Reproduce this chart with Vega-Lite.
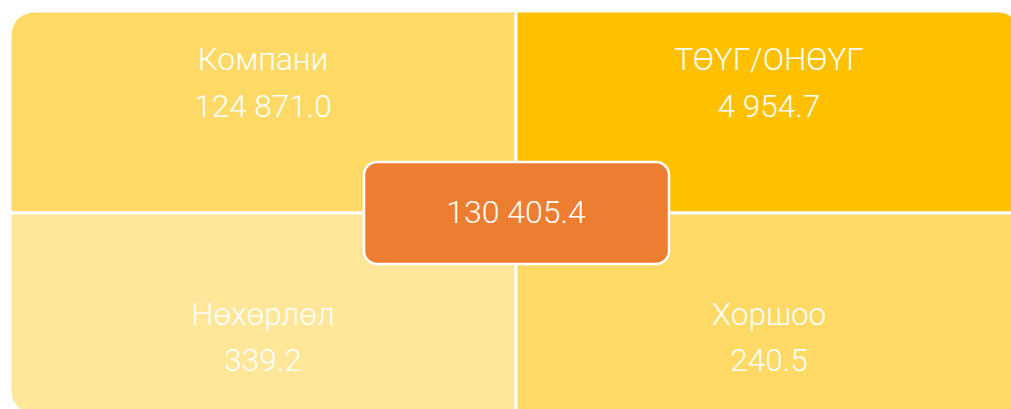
{
  "$schema": "https://vega.github.io/schema/vega-lite/v6.json",
  "width": 1011,
  "height": 409,
  "padding": 0,
  "autosize": {"type": "none"},
  "background": "white",
  "config": {"view": {"stroke": null}, "text": {"font": "Roboto"}},
  "datasets": {
    "quadrants": [
      {"q": "TL", "col": "left", "row": "top", "label": "Компани", "value": "124 871.0"},
      {"q": "TR", "col": "right", "row": "top", "label": "ТӨҮГ/ОНӨҮГ", "value": "4 954.7"},
      {"q": "BL", "col": "left", "row": "bottom", "label": "Нөхөрлөл", "value": "339.2"},
      {"q": "BR", "col": "right", "row": "bottom", "label": "Хоршоо", "value": "240.5"}
    ],
    "total": [{"total": "130 405.4"}]
  },
  "data": {"name": "quadrants"},
  "encoding": {
    "x": {"field": "col", "type": "nominal", "scale": {"domain": ["left", "right"], "range": [10, 1022], "paddingInner": 0, "paddingOuter": 0}, "axis": null},
    "y": {"field": "row", "type": "nominal", "scale": {"domain": ["top", "bottom"], "range": [11, 415], "paddingInner": 0, "paddingOuter": 0}, "axis": null}
  },
  "layer": [
    {
      "transform": [{"filter": "datum.q == 'TL'"}],
      "mark": {"type": "rect", "cornerRadiusTopLeft": 24, "stroke": "white", "strokeWidth": 3},
      "encoding": {"color": {"field": "q", "type": "nominal", "scale": {"domain": ["TL", "TR", "BL", "BR"], "range": ["#FFD966", "#FFC000", "#FFE699", "#FFD966"]}, "legend": null}}
    },
    {
      "transform": [{"filter": "datum.q == 'TR'"}],
      "mark": {"type": "rect", "cornerRadiusTopRight": 24, "stroke": "white", "strokeWidth": 3},
      "encoding": {"color": {"field": "q", "type": "nominal", "legend": null}}
    },
    {
      "transform": [{"filter": "datum.q == 'BL'"}],
      "mark": {"type": "rect", "cornerRadiusBottomLeft": 24, "stroke": "white", "strokeWidth": 3},
      "encoding": {"color": {"field": "q", "type": "nominal", "legend": null}}
    },
    {
      "transform": [{"filter": "datum.q == 'BR'"}],
      "mark": {"type": "rect", "cornerRadiusBottomRight": 24, "stroke": "white", "strokeWidth": 3},
      "encoding": {"color": {"field": "q", "type": "nominal", "legend": null}}
    },
    {
      "transform": [{"filter": "datum.row == 'top'"}],
      "mark": {"type": "text", "fontSize": 31.5, "fontWeight": 300, "color": "white", "baseline": "middle", "dy": -51},
      "encoding": {"text": {"field": "label"}}
    },
    {
      "transform": [{"filter": "datum.row == 'top'"}],
      "mark": {"type": "text", "fontSize": 31.5, "fontWeight": 300, "color": "white", "baseline": "middle", "dy": -4},
      "encoding": {"text": {"field": "value"}}
    },
    {
      "transform": [{"filter": "datum.row == 'bottom'"}],
      "mark": {"type": "text", "fontSize": 31.5, "fontWeight": 300, "color": "white", "baseline": "middle", "dy": 2},
      "encoding": {"text": {"field": "label"}}
    },
    {
      "transform": [{"filter": "datum.row == 'bottom'"}],
      "mark": {"type": "text", "fontSize": 31.5, "fontWeight": 300, "color": "white", "baseline": "middle", "dy": 48},
      "encoding": {"text": {"field": "value"}}
    },
    {
      "data": {"name": "total"},
      "mark": {"type": "rect", "cornerRadius": 13, "fill": "#ED7D31", "stroke": "white", "strokeWidth": 2.5, "xOffset": -152, "x2Offset": -100, "yOffset": -51, "y2Offset": -50},
      "encoding": {
        "x": {"datum": "right", "type": "nominal", "bandPosition": 0},
        "x2": {"datum": "right"},
        "y": {"datum": "bottom", "type": "nominal", "bandPosition": 0},
        "y2": {"datum": "bottom"}
      }
    },
    {
      "data": {"name": "total"},
      "mark": {"type": "text", "fontSize": 32, "fontWeight": 300, "color": "white", "baseline": "middle"},
      "encoding": {
        "x": {"datum": "right", "type": "nominal", "bandPosition": 0},
        "y": {"datum": "bottom", "type": "nominal", "bandPosition": 0},
        "text": {"field": "total"}
      }
    }
  ]
}
